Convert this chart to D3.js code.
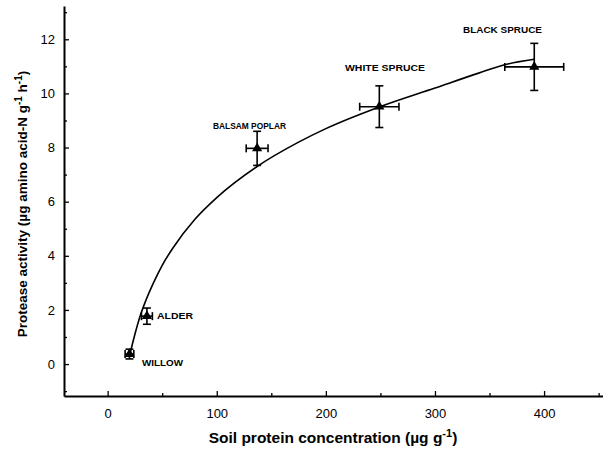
<!DOCTYPE html>
<html>
<head>
<meta charset="utf-8">
<script src="https://cdn.jsdelivr.net/npm/d3@7"></script>
<style>
  body { margin: 0; background: #fff; }
  text { font-family: "Liberation Sans", Arial, sans-serif; }
</style>
</head>
<body>
<div id="chart"></div>
<script>
// stands, means and errors
const stands = ["WILLOW", "ALDER", "BALSAM POPLAR", "WHITE SPRUCE", "BLACK SPRUCE"];
const protein = [20, 36, 137, 249, 391];
const proteinErr = [4, 5, 10, 18, 27];
const activity = [0.37, 1.77, 7.97, 9.51, 10.98];
const activityErr = [0.18, 0.3, 0.63, 0.77, 0.87];

// fitted line
const fitX = [20, 25, 30, 35, 42, 50, 60, 80, 100, 137, 175, 200, 249, 300, 340, 363, 391];
const fitY = [0.3, 1.1, 1.8, 2.35, 3.0, 3.65, 4.3, 5.35, 6.15, 7.3, 8.2, 8.7, 9.5, 10.2, 10.75, 11.05, 11.26];

const xTicks = [0, 100, 200, 300, 400];
const xMinor = [50, 150, 250, 350, 450];
const yTicks = [0, 2, 4, 6, 8, 10, 12];
const yMinor = [-1, 1, 3, 5, 7, 9, 11, 13];

const width = 603, height = 449;

const svg = d3.select("#chart")
    .append("svg")
    .attr("width", width)
    .attr("height", height);

const x = d3.scaleLinear().domain([-40, 454]).range([64, 603]);
const y = d3.scaleLinear().domain([-1.18, 13.23]).range([396, 6]);

// minor ticks
svg.append("g")
    .attr("transform", "translate(0,396)")
    .call(d3.axisBottom(x).tickValues(xMinor).tickSize(-3).tickFormat(""))
    .call(g => g.select(".domain").remove());
svg.append("g")
    .attr("transform", "translate(64,0)")
    .call(d3.axisLeft(y).tickValues(yMinor).tickSize(-3).tickFormat(""))
    .call(g => g.select(".domain").remove());

// major ticks
svg.append("g")
    .attr("transform", "translate(0,396)")
    .call(d3.axisBottom(x).tickValues(xTicks).tickSizeInner(-5).tickSizeOuter(0).tickPadding(13));
svg.append("g")
    .attr("transform", "translate(64,0)")
    .call(d3.axisLeft(y).tickValues(yTicks).tickSizeInner(-5).tickSizeOuter(0).tickPadding(9));

svg.selectAll(".tick line").attr("stroke", "#000").attr("stroke-width", 1.3);
svg.selectAll(".domain").attr("stroke", "#000").attr("stroke-width", 2);
svg.selectAll(".tick text")
    .attr("font-family", "Liberation Sans, Arial, sans-serif")
    .attr("font-size", 13)
    .attr("fill", "#000");

// axis titles
const xt = svg.append("text")
    .attr("x", 333).attr("y", 443)
    .attr("text-anchor", "middle")
    .attr("font-size", 15.5).attr("font-weight", "bold");
xt.append("tspan").text("Soil protein concentration (µg g");
xt.append("tspan").attr("dy", -6).attr("font-size", 11).text("-1");
xt.append("tspan").attr("dy", 6).text(")");

const yt = svg.append("text")
    .attr("transform", "translate(27,204) rotate(-90)")
    .attr("text-anchor", "middle")
    .attr("font-size", 13.5).attr("font-weight", "bold");
yt.append("tspan").text("Protease activity (µg amino acid-N g");
yt.append("tspan").attr("dy", -5).attr("font-size", 10).text("-1");
yt.append("tspan").attr("dy", 5).text(" h");
yt.append("tspan").attr("dy", -5).attr("font-size", 10).text("-1");
yt.append("tspan").attr("dy", 5).text(")");

// fitted curve
const fit = fitX.map((v, i) => [v, fitY[i]]);
svg.append("path")
    .datum(fit)
    .attr("fill", "none")
    .attr("stroke", "#000")
    .attr("stroke-width", 1.6)
    .attr("d", d3.line().x(d => x(d[0])).y(d => y(d[1])).curve(d3.curveMonotoneX));

// error bars and markers
const pts = stands.map((s, i) => ({
    name: s, px: protein[i], pxe: proteinErr[i], py: activity[i], pye: activityErr[i]
}));
const cap = 4;
const g = svg.append("g").attr("stroke", "#000").attr("stroke-width", 1.6);
pts.forEach(d => {
    const cx = x(d.px), cy = y(d.py);
    const x0 = x(d.px - d.pxe), x1 = x(d.px + d.pxe);
    const y0 = y(d.py - d.pye), y1 = y(d.py + d.pye);
    g.append("line").attr("x1", x0).attr("x2", x1).attr("y1", cy).attr("y2", cy);
    g.append("line").attr("x1", x0).attr("x2", x0).attr("y1", cy - cap).attr("y2", cy + cap);
    g.append("line").attr("x1", x1).attr("x2", x1).attr("y1", cy - cap).attr("y2", cy + cap);
    g.append("line").attr("x1", cx).attr("x2", cx).attr("y1", y0).attr("y2", y1);
    g.append("line").attr("x1", cx - cap).attr("x2", cx + cap).attr("y1", y0).attr("y2", y0);
    g.append("line").attr("x1", cx - cap).attr("x2", cx + cap).attr("y1", y1).attr("y2", y1);
});
svg.selectAll(".marker")
    .data(pts)
    .enter()
    .append("path")
    .attr("class", "marker")
    .attr("transform", d => `translate(${x(d.px)},${y(d.py)})`)
    .attr("d", d3.symbol(d3.symbolTriangle, 45))
    .attr("fill", "#000");

// stand labels
const labelPos = [[142, 366], [157, 319], [213, 129], [345, 71], [463, 33]];
const labelLen = [41, 36, 73, 80, 79];
svg.selectAll(".lbl")
    .data(pts)
    .enter()
    .append("text")
    .attr("class", "lbl")
    .attr("x", (d, i) => labelPos[i][0])
    .attr("y", (d, i) => labelPos[i][1])
    .attr("font-size", 9)
    .attr("font-weight", "bold")
    .attr("textLength", (d, i) => labelLen[i])
    .attr("lengthAdjust", "spacingAndGlyphs")
    .text(d => d.name);
</script>
</body>
</html>
